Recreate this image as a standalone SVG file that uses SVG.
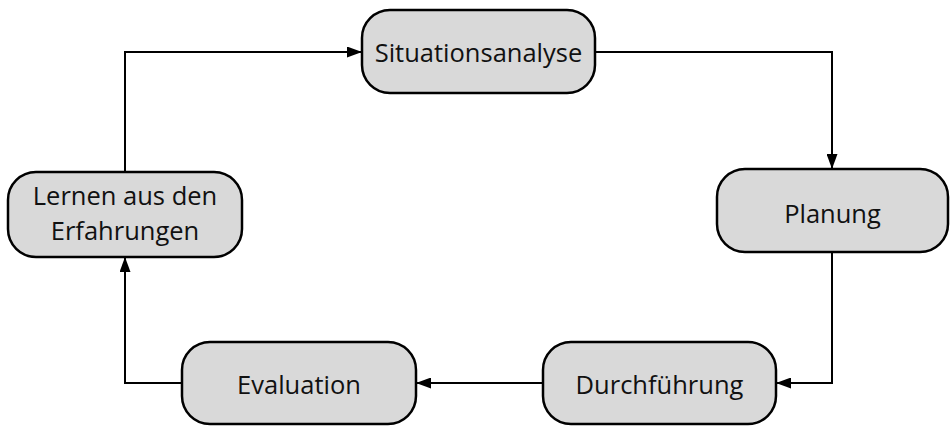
<svg xmlns="http://www.w3.org/2000/svg" width="951" height="426" viewBox="0 0 951 426">
<style>
.box{fill:#d9d9d9;stroke:#000;stroke-width:2.5}
.t{font-family:"Open Sans","DejaVu Sans",sans-serif;font-size:25.5px;fill:#111;text-anchor:middle}
.c{fill:none;stroke:#000;stroke-width:2}
</style>
<defs>
<marker id="ah" markerWidth="15" markerHeight="11" refX="14" refY="5.5" orient="auto" markerUnits="userSpaceOnUse">
<path d="M0,0 L15,5.5 L0,11 Z" fill="#000"/>
</marker>
</defs>
<rect width="951" height="426" fill="#fff"/>
<g id="connectors">
<path class="c" d="M125,172 V52 H361" marker-end="url(#ah)"/>
<path class="c" d="M595,52 H832 V168" marker-end="url(#ah)"/>
<path class="c" d="M832,253 V383 H777" marker-end="url(#ah)"/>
<path class="c" d="M543,383 H417" marker-end="url(#ah)"/>
<path class="c" d="M182,383 H125 V258" marker-end="url(#ah)"/>
</g>
<g id="situationsanalyse">
<rect class="box" x="362" y="10" width="233" height="83" rx="28"/>
<text class="t" x="478.5" y="62">Situationsanalyse</text>
</g>
<g id="planung">
<rect class="box" x="717" y="169" width="231" height="83" rx="28"/>
<text class="t" x="832.5" y="223">Planung</text>
</g>
<g id="durchfuehrung">
<rect class="box" x="543" y="342" width="233" height="82" rx="28"/>
<text class="t" x="659.5" y="394">Durchführung</text>
</g>
<g id="evaluation">
<rect class="box" x="182" y="342" width="234" height="82" rx="28"/>
<text class="t" x="299" y="394">Evaluation</text>
</g>
<g id="lernen">
<rect class="box" x="8" y="172" width="234" height="85" rx="28"/>
<text class="t" x="125" y="205">Lernen aus den</text>
<text class="t" x="125" y="240">Erfahrungen</text>
</g>
</svg>
